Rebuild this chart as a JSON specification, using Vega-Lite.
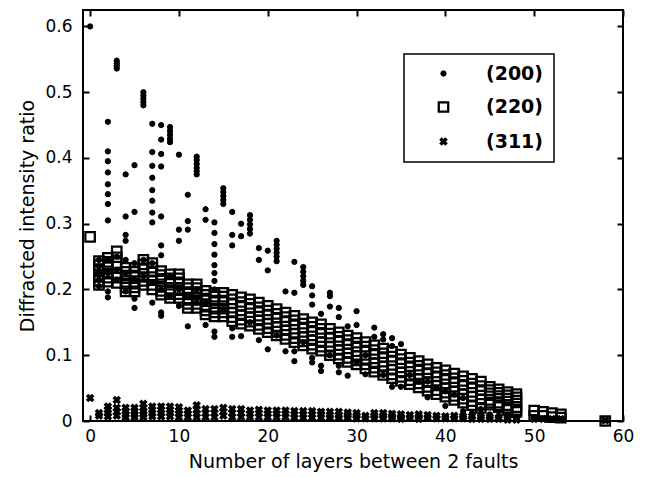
{
"$schema":"https://vega.github.io/schema/vega-lite/v6.json",
"width":540,"height":411,
"autosize":{"type":"none"},
"padding":{"left":83,"top":10,"right":45,"bottom":56},
"background":"white",
"config":{
 "view":{"stroke":"black","strokeWidth":2},
 "font":"DejaVu Sans",
 "axis":{"domain":false,"grid":false,"tickColor":"black","tickWidth":2,"tickSize":-6,"labelColor":"black","labelFont":"DejaVu Sans","labelFontSize":17,"titleFont":"DejaVu Sans","titleFontSize":19,"titleFontWeight":"normal","titleColor":"black","labelFlush":false,"labelOverlap":false,"labelBound":false},
 "legend":{"strokeColor":"black","strokeWidth":1.5,"fillColor":"white","padding":10,"rowPadding":13.5,"symbolOffset":20,"labelOffset":33,"labelFontSize":19,"labelFontWeight":"bold","labelFont":"DejaVu Sans","labelColor":"black"}
},
"data":{"values":[
{"n":0,"v":0.6,"s":"(200)"},
{"n":1,"v":0.245,"s":"(200)"},{"n":1,"v":0.235,"s":"(200)"},{"n":1,"v":0.225,"s":"(200)"},{"n":1,"v":0.215,"s":"(200)"},{"n":1,"v":0.205,"s":"(200)"},
{"n":2,"v":0.455,"s":"(200)"},{"n":2,"v":0.41,"s":"(200)"},{"n":2,"v":0.395,"s":"(200)"},{"n":2,"v":0.378,"s":"(200)"},{"n":2,"v":0.36,"s":"(200)"},{"n":2,"v":0.345,"s":"(200)"},{"n":2,"v":0.33,"s":"(200)"},{"n":2,"v":0.305,"s":"(200)"},{"n":2,"v":0.245,"s":"(200)"},{"n":2,"v":0.225,"s":"(200)"},{"n":2,"v":0.197,"s":"(200)"},{"n":2,"v":0.188,"s":"(200)"},
{"n":3,"v":0.548,"s":"(200)"},{"n":3,"v":0.544,"s":"(200)"},{"n":3,"v":0.54,"s":"(200)"},{"n":3,"v":0.536,"s":"(200)"},{"n":3,"v":0.25,"s":"(200)"},{"n":3,"v":0.23,"s":"(200)"},{"n":3,"v":0.215,"s":"(200)"},
{"n":4,"v":0.375,"s":"(200)"},{"n":4,"v":0.311,"s":"(200)"},{"n":4,"v":0.283,"s":"(200)"},{"n":4,"v":0.274,"s":"(200)"},{"n":4,"v":0.245,"s":"(200)"},{"n":4,"v":0.225,"s":"(200)"},{"n":4,"v":0.197,"s":"(200)"},
{"n":5,"v":0.389,"s":"(200)"},{"n":5,"v":0.318,"s":"(200)"},{"n":5,"v":0.24,"s":"(200)"},{"n":5,"v":0.215,"s":"(200)"},{"n":5,"v":0.186,"s":"(200)"},{"n":5,"v":0.172,"s":"(200)"},
{"n":6,"v":0.5,"s":"(200)"},{"n":6,"v":0.495,"s":"(200)"},{"n":6,"v":0.49,"s":"(200)"},{"n":6,"v":0.485,"s":"(200)"},{"n":6,"v":0.48,"s":"(200)"},{"n":6,"v":0.245,"s":"(200)"},{"n":6,"v":0.22,"s":"(200)"},
{"n":7,"v":0.452,"s":"(200)"},{"n":7,"v":0.409,"s":"(200)"},{"n":7,"v":0.388,"s":"(200)"},{"n":7,"v":0.37,"s":"(200)"},{"n":7,"v":0.351,"s":"(200)"},{"n":7,"v":0.335,"s":"(200)"},{"n":7,"v":0.317,"s":"(200)"},{"n":7,"v":0.302,"s":"(200)"},{"n":7,"v":0.24,"s":"(200)"},{"n":7,"v":0.21,"s":"(200)"},{"n":7,"v":0.18,"s":"(200)"},
{"n":8,"v":0.45,"s":"(200)"},{"n":8,"v":0.428,"s":"(200)"},{"n":8,"v":0.406,"s":"(200)"},{"n":8,"v":0.387,"s":"(200)"},{"n":8,"v":0.311,"s":"(200)"},{"n":8,"v":0.267,"s":"(200)"},{"n":8,"v":0.252,"s":"(200)"},{"n":8,"v":0.2,"s":"(200)"},{"n":8,"v":0.165,"s":"(200)"},{"n":8,"v":0.16,"s":"(200)"},
{"n":9,"v":0.447,"s":"(200)"},{"n":9,"v":0.441,"s":"(200)"},{"n":9,"v":0.435,"s":"(200)"},{"n":9,"v":0.429,"s":"(200)"},{"n":9,"v":0.424,"s":"(200)"},{"n":9,"v":0.22,"s":"(200)"},{"n":9,"v":0.19,"s":"(200)"},
{"n":10,"v":0.405,"s":"(200)"},{"n":10,"v":0.291,"s":"(200)"},{"n":10,"v":0.274,"s":"(200)"},{"n":10,"v":0.2,"s":"(200)"},{"n":10,"v":0.175,"s":"(200)"},
{"n":11,"v":0.344,"s":"(200)"},{"n":11,"v":0.304,"s":"(200)"},{"n":11,"v":0.291,"s":"(200)"},{"n":11,"v":0.19,"s":"(200)"},{"n":11,"v":0.144,"s":"(200)"},
{"n":12,"v":0.402,"s":"(200)"},{"n":12,"v":0.397,"s":"(200)"},{"n":12,"v":0.391,"s":"(200)"},{"n":12,"v":0.385,"s":"(200)"},{"n":12,"v":0.38,"s":"(200)"},{"n":12,"v":0.375,"s":"(200)"},{"n":12,"v":0.2,"s":"(200)"},{"n":12,"v":0.18,"s":"(200)"},
{"n":13,"v":0.322,"s":"(200)"},{"n":13,"v":0.306,"s":"(200)"},{"n":13,"v":0.18,"s":"(200)"},{"n":13,"v":0.146,"s":"(200)"},
{"n":14,"v":0.302,"s":"(200)"},{"n":14,"v":0.286,"s":"(200)"},{"n":14,"v":0.269,"s":"(200)"},{"n":14,"v":0.253,"s":"(200)"},{"n":14,"v":0.237,"s":"(200)"},{"n":14,"v":0.225,"s":"(200)"},{"n":14,"v":0.213,"s":"(200)"},{"n":14,"v":0.2,"s":"(200)"},{"n":14,"v":0.136,"s":"(200)"},{"n":14,"v":0.128,"s":"(200)"},
{"n":15,"v":0.354,"s":"(200)"},{"n":15,"v":0.348,"s":"(200)"},{"n":15,"v":0.342,"s":"(200)"},{"n":15,"v":0.336,"s":"(200)"},{"n":15,"v":0.33,"s":"(200)"},{"n":15,"v":0.17,"s":"(200)"},
{"n":16,"v":0.318,"s":"(200)"},{"n":16,"v":0.283,"s":"(200)"},{"n":16,"v":0.267,"s":"(200)"},{"n":16,"v":0.141,"s":"(200)"},{"n":16,"v":0.128,"s":"(200)"},
{"n":17,"v":0.3,"s":"(200)"},{"n":17,"v":0.281,"s":"(200)"},{"n":17,"v":0.129,"s":"(200)"},
{"n":18,"v":0.313,"s":"(200)"},{"n":18,"v":0.306,"s":"(200)"},{"n":18,"v":0.299,"s":"(200)"},{"n":18,"v":0.292,"s":"(200)"},{"n":18,"v":0.285,"s":"(200)"},{"n":18,"v":0.15,"s":"(200)"},
{"n":19,"v":0.263,"s":"(200)"},{"n":19,"v":0.245,"s":"(200)"},{"n":19,"v":0.123,"s":"(200)"},
{"n":20,"v":0.259,"s":"(200)"},{"n":20,"v":0.229,"s":"(200)"},{"n":20,"v":0.109,"s":"(200)"},
{"n":21,"v":0.274,"s":"(200)"},{"n":21,"v":0.268,"s":"(200)"},{"n":21,"v":0.262,"s":"(200)"},{"n":21,"v":0.256,"s":"(200)"},{"n":21,"v":0.25,"s":"(200)"},{"n":21,"v":0.243,"s":"(200)"},{"n":21,"v":0.13,"s":"(200)"},
{"n":22,"v":0.197,"s":"(200)"},{"n":22,"v":0.106,"s":"(200)"},
{"n":23,"v":0.242,"s":"(200)"},{"n":23,"v":0.195,"s":"(200)"},{"n":23,"v":0.106,"s":"(200)"},{"n":23,"v":0.091,"s":"(200)"},
{"n":24,"v":0.234,"s":"(200)"},{"n":24,"v":0.227,"s":"(200)"},{"n":24,"v":0.22,"s":"(200)"},{"n":24,"v":0.213,"s":"(200)"},{"n":24,"v":0.207,"s":"(200)"},{"n":24,"v":0.12,"s":"(200)"},
{"n":25,"v":0.205,"s":"(200)"},{"n":25,"v":0.191,"s":"(200)"},{"n":25,"v":0.177,"s":"(200)"},{"n":25,"v":0.096,"s":"(200)"},{"n":25,"v":0.089,"s":"(200)"},
{"n":26,"v":0.163,"s":"(200)"},{"n":26,"v":0.084,"s":"(200)"},{"n":26,"v":0.076,"s":"(200)"},
{"n":27,"v":0.195,"s":"(200)"},{"n":27,"v":0.19,"s":"(200)"},{"n":27,"v":0.174,"s":"(200)"},{"n":27,"v":0.1,"s":"(200)"},
{"n":28,"v":0.172,"s":"(200)"},{"n":28,"v":0.158,"s":"(200)"},{"n":28,"v":0.084,"s":"(200)"},{"n":28,"v":0.074,"s":"(200)"},
{"n":29,"v":0.144,"s":"(200)"},{"n":29,"v":0.069,"s":"(200)"},
{"n":30,"v":0.167,"s":"(200)"},{"n":30,"v":0.146,"s":"(200)"},{"n":30,"v":0.09,"s":"(200)"},
{"n":31,"v":0.1,"s":"(200)"},{"n":31,"v":0.071,"s":"(200)"},
{"n":32,"v":0.142,"s":"(200)"},{"n":32,"v":0.128,"s":"(200)"},
{"n":33,"v":0.132,"s":"(200)"},{"n":33,"v":0.124,"s":"(200)"},{"n":33,"v":0.07,"s":"(200)"},
{"n":34,"v":0.126,"s":"(200)"},{"n":34,"v":0.114,"s":"(200)"},{"n":34,"v":0.052,"s":"(200)"},
{"n":35,"v":0.117,"s":"(200)"},{"n":35,"v":0.052,"s":"(200)"},
{"n":36,"v":0.07,"s":"(200)"},{"n":37,"v":0.06,"s":"(200)"},
{"n":38,"v":0.06,"s":"(200)"},{"n":38,"v":0.036,"s":"(200)"},
{"n":39,"v":0.05,"s":"(200)"},
{"n":40,"v":0.045,"s":"(200)"},{"n":40,"v":0.023,"s":"(200)"},
{"n":41,"v":0.04,"s":"(200)"},
{"n":42,"v":0.035,"s":"(200)"},{"n":42,"v":0.015,"s":"(200)"},
{"n":43,"v":0.012,"s":"(200)"},
{"n":44,"v":0.018,"s":"(200)"},{"n":44,"v":0.01,"s":"(200)"},
{"n":45,"v":0.01,"s":"(200)"},{"n":46,"v":0.008,"s":"(200)"},{"n":47,"v":0.01,"s":"(200)"},{"n":48,"v":0.006,"s":"(200)"},
{"n":50,"v":0.004,"s":"(200)"},{"n":51,"v":0.004,"s":"(200)"},{"n":52,"v":0.003,"s":"(200)"},{"n":53,"v":0.003,"s":"(200)"},

{"n":0,"v":0.28,"s":"(220)"},
{"n":1,"v":0.243,"s":"(220)"},{"n":1,"v":0.237,"s":"(220)"},{"n":1,"v":0.231,"s":"(220)"},{"n":1,"v":0.219,"s":"(220)"},{"n":1,"v":0.213,"s":"(220)"},{"n":1,"v":0.207,"s":"(220)"},
{"n":2,"v":0.248,"s":"(220)"},{"n":2,"v":0.242,"s":"(220)"},{"n":2,"v":0.236,"s":"(220)"},{"n":2,"v":0.224,"s":"(220)"},{"n":2,"v":0.218,"s":"(220)"},{"n":2,"v":0.212,"s":"(220)"},
{"n":3,"v":0.258,"s":"(220)"},{"n":3,"v":0.249,"s":"(220)"},{"n":3,"v":0.24,"s":"(220)"},{"n":3,"v":0.225,"s":"(220)"},{"n":3,"v":0.218,"s":"(220)"},{"n":3,"v":0.21,"s":"(220)"},
{"n":4,"v":0.233,"s":"(220)"},{"n":4,"v":0.227,"s":"(220)"},{"n":4,"v":0.221,"s":"(220)"},{"n":4,"v":0.209,"s":"(220)"},{"n":4,"v":0.203,"s":"(220)"},{"n":4,"v":0.197,"s":"(220)"},
{"n":5,"v":0.233,"s":"(220)"},{"n":5,"v":0.227,"s":"(220)"},{"n":5,"v":0.221,"s":"(220)"},{"n":5,"v":0.209,"s":"(220)"},{"n":5,"v":0.203,"s":"(220)"},{"n":5,"v":0.197,"s":"(220)"},
{"n":6,"v":0.245,"s":"(220)"},{"n":6,"v":0.238,"s":"(220)"},{"n":6,"v":0.232,"s":"(220)"},{"n":6,"v":0.219,"s":"(220)"},{"n":6,"v":0.213,"s":"(220)"},{"n":6,"v":0.207,"s":"(220)"},
{"n":7,"v":0.24,"s":"(220)"},{"n":7,"v":0.233,"s":"(220)"},{"n":7,"v":0.227,"s":"(220)"},{"n":7,"v":0.214,"s":"(220)"},{"n":7,"v":0.207,"s":"(220)"},{"n":7,"v":0.2,"s":"(220)"},
{"n":8,"v":0.228,"s":"(220)"},{"n":8,"v":0.222,"s":"(220)"},{"n":8,"v":0.216,"s":"(220)"},{"n":8,"v":0.204,"s":"(220)"},{"n":8,"v":0.198,"s":"(220)"},{"n":8,"v":0.192,"s":"(220)"},
{"n":9,"v":0.223,"s":"(220)"},{"n":9,"v":0.217,"s":"(220)"},{"n":9,"v":0.211,"s":"(220)"},{"n":9,"v":0.199,"s":"(220)"},{"n":9,"v":0.193,"s":"(220)"},{"n":9,"v":0.187,"s":"(220)"},
{"n":10,"v":0.223,"s":"(220)"},{"n":10,"v":0.217,"s":"(220)"},{"n":10,"v":0.211,"s":"(220)"},{"n":10,"v":0.199,"s":"(220)"},{"n":10,"v":0.193,"s":"(220)"},{"n":10,"v":0.187,"s":"(220)"},
{"n":11,"v":0.208,"s":"(220)"},{"n":11,"v":0.202,"s":"(220)"},{"n":11,"v":0.196,"s":"(220)"},{"n":11,"v":0.184,"s":"(220)"},{"n":11,"v":0.178,"s":"(220)"},{"n":11,"v":0.172,"s":"(220)"},
{"n":12,"v":0.208,"s":"(220)"},{"n":12,"v":0.202,"s":"(220)"},{"n":12,"v":0.196,"s":"(220)"},{"n":12,"v":0.184,"s":"(220)"},{"n":12,"v":0.178,"s":"(220)"},{"n":12,"v":0.172,"s":"(220)"},
{"n":13,"v":0.198,"s":"(220)"},{"n":13,"v":0.192,"s":"(220)"},{"n":13,"v":0.186,"s":"(220)"},{"n":13,"v":0.174,"s":"(220)"},{"n":13,"v":0.168,"s":"(220)"},{"n":13,"v":0.162,"s":"(220)"},
{"n":14,"v":0.195,"s":"(220)"},{"n":14,"v":0.189,"s":"(220)"},{"n":14,"v":0.183,"s":"(220)"},{"n":14,"v":0.171,"s":"(220)"},{"n":14,"v":0.165,"s":"(220)"},{"n":14,"v":0.159,"s":"(220)"},
{"n":15,"v":0.195,"s":"(220)"},{"n":15,"v":0.189,"s":"(220)"},{"n":15,"v":0.183,"s":"(220)"},{"n":15,"v":0.171,"s":"(220)"},{"n":15,"v":0.165,"s":"(220)"},{"n":15,"v":0.159,"s":"(220)"},
{"n":16,"v":0.192,"s":"(220)"},{"n":16,"v":0.185,"s":"(220)"},{"n":16,"v":0.179,"s":"(220)"},{"n":16,"v":0.165,"s":"(220)"},{"n":16,"v":0.158,"s":"(220)"},{"n":16,"v":0.152,"s":"(220)"},
{"n":17,"v":0.188,"s":"(220)"},{"n":17,"v":0.181,"s":"(220)"},{"n":17,"v":0.175,"s":"(220)"},{"n":17,"v":0.161,"s":"(220)"},{"n":17,"v":0.154,"s":"(220)"},{"n":17,"v":0.148,"s":"(220)"},
{"n":18,"v":0.185,"s":"(220)"},{"n":18,"v":0.178,"s":"(220)"},{"n":18,"v":0.172,"s":"(220)"},{"n":18,"v":0.158,"s":"(220)"},{"n":18,"v":0.151,"s":"(220)"},{"n":18,"v":0.145,"s":"(220)"},
{"n":19,"v":0.18,"s":"(220)"},{"n":19,"v":0.173,"s":"(220)"},{"n":19,"v":0.167,"s":"(220)"},{"n":19,"v":0.153,"s":"(220)"},{"n":19,"v":0.146,"s":"(220)"},{"n":19,"v":0.14,"s":"(220)"},
{"n":20,"v":0.175,"s":"(220)"},{"n":20,"v":0.168,"s":"(220)"},{"n":20,"v":0.162,"s":"(220)"},{"n":20,"v":0.148,"s":"(220)"},{"n":20,"v":0.141,"s":"(220)"},{"n":20,"v":0.135,"s":"(220)"},
{"n":21,"v":0.17,"s":"(220)"},{"n":21,"v":0.163,"s":"(220)"},{"n":21,"v":0.157,"s":"(220)"},{"n":21,"v":0.143,"s":"(220)"},{"n":21,"v":0.136,"s":"(220)"},{"n":21,"v":0.13,"s":"(220)"},
{"n":22,"v":0.165,"s":"(220)"},{"n":22,"v":0.158,"s":"(220)"},{"n":22,"v":0.152,"s":"(220)"},{"n":22,"v":0.138,"s":"(220)"},{"n":22,"v":0.131,"s":"(220)"},{"n":22,"v":0.125,"s":"(220)"},
{"n":23,"v":0.16,"s":"(220)"},{"n":23,"v":0.153,"s":"(220)"},{"n":23,"v":0.147,"s":"(220)"},{"n":23,"v":0.133,"s":"(220)"},{"n":23,"v":0.126,"s":"(220)"},{"n":23,"v":0.12,"s":"(220)"},
{"n":24,"v":0.155,"s":"(220)"},{"n":24,"v":0.148,"s":"(220)"},{"n":24,"v":0.142,"s":"(220)"},{"n":24,"v":0.128,"s":"(220)"},{"n":24,"v":0.121,"s":"(220)"},{"n":24,"v":0.115,"s":"(220)"},
{"n":25,"v":0.15,"s":"(220)"},{"n":25,"v":0.143,"s":"(220)"},{"n":25,"v":0.137,"s":"(220)"},{"n":25,"v":0.123,"s":"(220)"},{"n":25,"v":0.116,"s":"(220)"},{"n":25,"v":0.11,"s":"(220)"},
{"n":26,"v":0.147,"s":"(220)"},{"n":26,"v":0.14,"s":"(220)"},{"n":26,"v":0.134,"s":"(220)"},{"n":26,"v":0.12,"s":"(220)"},{"n":26,"v":0.113,"s":"(220)"},{"n":26,"v":0.107,"s":"(220)"},
{"n":27,"v":0.14,"s":"(220)"},{"n":27,"v":0.133,"s":"(220)"},{"n":27,"v":0.127,"s":"(220)"},{"n":27,"v":0.113,"s":"(220)"},{"n":27,"v":0.106,"s":"(220)"},{"n":27,"v":0.1,"s":"(220)"},
{"n":28,"v":0.135,"s":"(220)"},{"n":28,"v":0.128,"s":"(220)"},{"n":28,"v":0.122,"s":"(220)"},{"n":28,"v":0.108,"s":"(220)"},{"n":28,"v":0.101,"s":"(220)"},{"n":28,"v":0.095,"s":"(220)"},
{"n":29,"v":0.13,"s":"(220)"},{"n":29,"v":0.123,"s":"(220)"},{"n":29,"v":0.117,"s":"(220)"},{"n":29,"v":0.103,"s":"(220)"},{"n":29,"v":0.096,"s":"(220)"},{"n":29,"v":0.09,"s":"(220)"},
{"n":30,"v":0.126,"s":"(220)"},{"n":30,"v":0.119,"s":"(220)"},{"n":30,"v":0.113,"s":"(220)"},{"n":30,"v":0.099,"s":"(220)"},{"n":30,"v":0.092,"s":"(220)"},{"n":30,"v":0.086,"s":"(220)"},
{"n":31,"v":0.12,"s":"(220)"},{"n":31,"v":0.113,"s":"(220)"},{"n":31,"v":0.107,"s":"(220)"},{"n":31,"v":0.093,"s":"(220)"},{"n":31,"v":0.086,"s":"(220)"},{"n":31,"v":0.08,"s":"(220)"},
{"n":32,"v":0.115,"s":"(220)"},{"n":32,"v":0.108,"s":"(220)"},{"n":32,"v":0.102,"s":"(220)"},{"n":32,"v":0.088,"s":"(220)"},{"n":32,"v":0.081,"s":"(220)"},{"n":32,"v":0.075,"s":"(220)"},
{"n":33,"v":0.11,"s":"(220)"},{"n":33,"v":0.103,"s":"(220)"},{"n":33,"v":0.097,"s":"(220)"},{"n":33,"v":0.083,"s":"(220)"},{"n":33,"v":0.076,"s":"(220)"},{"n":33,"v":0.07,"s":"(220)"},
{"n":34,"v":0.105,"s":"(220)"},{"n":34,"v":0.098,"s":"(220)"},{"n":34,"v":0.092,"s":"(220)"},{"n":34,"v":0.078,"s":"(220)"},{"n":34,"v":0.071,"s":"(220)"},{"n":34,"v":0.065,"s":"(220)"},
{"n":35,"v":0.101,"s":"(220)"},{"n":35,"v":0.094,"s":"(220)"},{"n":35,"v":0.088,"s":"(220)"},{"n":35,"v":0.074,"s":"(220)"},{"n":35,"v":0.067,"s":"(220)"},{"n":35,"v":0.061,"s":"(220)"},
{"n":36,"v":0.096,"s":"(220)"},{"n":36,"v":0.089,"s":"(220)"},{"n":36,"v":0.083,"s":"(220)"},{"n":36,"v":0.069,"s":"(220)"},{"n":36,"v":0.062,"s":"(220)"},{"n":36,"v":0.056,"s":"(220)"},
{"n":37,"v":0.091,"s":"(220)"},{"n":37,"v":0.084,"s":"(220)"},{"n":37,"v":0.078,"s":"(220)"},{"n":37,"v":0.064,"s":"(220)"},{"n":37,"v":0.057,"s":"(220)"},{"n":37,"v":0.051,"s":"(220)"},
{"n":38,"v":0.086,"s":"(220)"},{"n":38,"v":0.079,"s":"(220)"},{"n":38,"v":0.073,"s":"(220)"},{"n":38,"v":0.059,"s":"(220)"},{"n":38,"v":0.052,"s":"(220)"},{"n":38,"v":0.046,"s":"(220)"},
{"n":39,"v":0.081,"s":"(220)"},{"n":39,"v":0.074,"s":"(220)"},{"n":39,"v":0.068,"s":"(220)"},{"n":39,"v":0.054,"s":"(220)"},{"n":39,"v":0.047,"s":"(220)"},{"n":39,"v":0.041,"s":"(220)"},
{"n":40,"v":0.077,"s":"(220)"},{"n":40,"v":0.07,"s":"(220)"},{"n":40,"v":0.064,"s":"(220)"},{"n":40,"v":0.05,"s":"(220)"},{"n":40,"v":0.043,"s":"(220)"},{"n":40,"v":0.037,"s":"(220)"},
{"n":41,"v":0.072,"s":"(220)"},{"n":41,"v":0.065,"s":"(220)"},{"n":41,"v":0.059,"s":"(220)"},{"n":41,"v":0.045,"s":"(220)"},{"n":41,"v":0.038,"s":"(220)"},{"n":41,"v":0.032,"s":"(220)"},
{"n":42,"v":0.068,"s":"(220)"},{"n":42,"v":0.061,"s":"(220)"},{"n":42,"v":0.055,"s":"(220)"},{"n":42,"v":0.041,"s":"(220)"},{"n":42,"v":0.034,"s":"(220)"},{"n":42,"v":0.028,"s":"(220)"},
{"n":43,"v":0.064,"s":"(220)"},{"n":43,"v":0.057,"s":"(220)"},{"n":43,"v":0.051,"s":"(220)"},{"n":43,"v":0.037,"s":"(220)"},{"n":43,"v":0.03,"s":"(220)"},{"n":43,"v":0.024,"s":"(220)"},
{"n":44,"v":0.06,"s":"(220)"},{"n":44,"v":0.053,"s":"(220)"},{"n":44,"v":0.047,"s":"(220)"},{"n":44,"v":0.033,"s":"(220)"},{"n":44,"v":0.026,"s":"(220)"},{"n":44,"v":0.02,"s":"(220)"},
{"n":45,"v":0.052,"s":"(220)"},{"n":45,"v":0.047,"s":"(220)"},{"n":45,"v":0.042,"s":"(220)"},{"n":45,"v":0.032,"s":"(220)"},{"n":45,"v":0.028,"s":"(220)"},{"n":45,"v":0.025,"s":"(220)"},
{"n":46,"v":0.048,"s":"(220)"},{"n":46,"v":0.043,"s":"(220)"},{"n":46,"v":0.038,"s":"(220)"},{"n":46,"v":0.028,"s":"(220)"},{"n":46,"v":0.024,"s":"(220)"},{"n":46,"v":0.021,"s":"(220)"},
{"n":47,"v":0.044,"s":"(220)"},{"n":47,"v":0.039,"s":"(220)"},{"n":47,"v":0.034,"s":"(220)"},{"n":47,"v":0.024,"s":"(220)"},{"n":47,"v":0.02,"s":"(220)"},{"n":47,"v":0.017,"s":"(220)"},
{"n":48,"v":0.041,"s":"(220)"},{"n":48,"v":0.036,"s":"(220)"},{"n":48,"v":0.031,"s":"(220)"},{"n":48,"v":0.021,"s":"(220)"},{"n":48,"v":0.017,"s":"(220)"},{"n":48,"v":0.014,"s":"(220)"},
{"n":50,"v":0.016,"s":"(220)"},{"n":50,"v":0.008,"s":"(220)"},
{"n":51,"v":0.014,"s":"(220)"},{"n":51,"v":0.008,"s":"(220)"},
{"n":52,"v":0.012,"s":"(220)"},{"n":52,"v":0.006,"s":"(220)"},
{"n":53,"v":0.01,"s":"(220)"},{"n":53,"v":0.005,"s":"(220)"},
{"n":58,"v":0.0,"s":"(220)"},

{"n":0,"v":0.035,"s":"(311)"},
{"n":1,"v":0.012,"s":"(311)"},{"n":1,"v":0.008,"s":"(311)"},
{"n":2,"v":0.022,"s":"(311)"},{"n":2,"v":0.017,"s":"(311)"},{"n":2,"v":0.012,"s":"(311)"},{"n":2,"v":0.007,"s":"(311)"},
{"n":3,"v":0.032,"s":"(311)"},{"n":3,"v":0.02,"s":"(311)"},{"n":3,"v":0.014,"s":"(311)"},{"n":3,"v":0.008,"s":"(311)"},
{"n":4,"v":0.02,"s":"(311)"},{"n":4,"v":0.015,"s":"(311)"},{"n":4,"v":0.01,"s":"(311)"},{"n":4,"v":0.006,"s":"(311)"},
{"n":5,"v":0.02,"s":"(311)"},{"n":5,"v":0.015,"s":"(311)"},{"n":5,"v":0.01,"s":"(311)"},{"n":5,"v":0.006,"s":"(311)"},
{"n":6,"v":0.026,"s":"(311)"},{"n":6,"v":0.02,"s":"(311)"},{"n":6,"v":0.015,"s":"(311)"},{"n":6,"v":0.01,"s":"(311)"},{"n":6,"v":0.006,"s":"(311)"},
{"n":7,"v":0.022,"s":"(311)"},{"n":7,"v":0.017,"s":"(311)"},{"n":7,"v":0.012,"s":"(311)"},{"n":7,"v":0.007,"s":"(311)"},
{"n":8,"v":0.022,"s":"(311)"},{"n":8,"v":0.017,"s":"(311)"},{"n":8,"v":0.012,"s":"(311)"},{"n":8,"v":0.007,"s":"(311)"},
{"n":9,"v":0.022,"s":"(311)"},{"n":9,"v":0.017,"s":"(311)"},{"n":9,"v":0.012,"s":"(311)"},{"n":9,"v":0.007,"s":"(311)"},
{"n":10,"v":0.021,"s":"(311)"},{"n":10,"v":0.016,"s":"(311)"},{"n":10,"v":0.011,"s":"(311)"},{"n":10,"v":0.006,"s":"(311)"},
{"n":11,"v":0.016,"s":"(311)"},{"n":11,"v":0.011,"s":"(311)"},{"n":11,"v":0.006,"s":"(311)"},
{"n":12,"v":0.024,"s":"(311)"},{"n":12,"v":0.017,"s":"(311)"},{"n":12,"v":0.011,"s":"(311)"},{"n":12,"v":0.006,"s":"(311)"},
{"n":13,"v":0.018,"s":"(311)"},{"n":13,"v":0.012,"s":"(311)"},{"n":13,"v":0.006,"s":"(311)"},
{"n":14,"v":0.018,"s":"(311)"},{"n":14,"v":0.012,"s":"(311)"},{"n":14,"v":0.006,"s":"(311)"},
{"n":15,"v":0.02,"s":"(311)"},{"n":15,"v":0.014,"s":"(311)"},{"n":15,"v":0.008,"s":"(311)"},
{"n":16,"v":0.018,"s":"(311)"},{"n":16,"v":0.012,"s":"(311)"},{"n":16,"v":0.006,"s":"(311)"},
{"n":17,"v":0.018,"s":"(311)"},{"n":17,"v":0.012,"s":"(311)"},{"n":17,"v":0.006,"s":"(311)"},
{"n":18,"v":0.016,"s":"(311)"},{"n":18,"v":0.011,"s":"(311)"},{"n":18,"v":0.006,"s":"(311)"},
{"n":19,"v":0.017,"s":"(311)"},{"n":19,"v":0.012,"s":"(311)"},{"n":19,"v":0.006,"s":"(311)"},
{"n":20,"v":0.016,"s":"(311)"},{"n":20,"v":0.011,"s":"(311)"},{"n":20,"v":0.006,"s":"(311)"},
{"n":21,"v":0.016,"s":"(311)"},{"n":21,"v":0.011,"s":"(311)"},{"n":21,"v":0.006,"s":"(311)"},
{"n":22,"v":0.016,"s":"(311)"},{"n":22,"v":0.011,"s":"(311)"},{"n":22,"v":0.006,"s":"(311)"},
{"n":23,"v":0.015,"s":"(311)"},{"n":23,"v":0.01,"s":"(311)"},{"n":23,"v":0.005,"s":"(311)"},
{"n":24,"v":0.015,"s":"(311)"},{"n":24,"v":0.01,"s":"(311)"},{"n":24,"v":0.005,"s":"(311)"},
{"n":25,"v":0.015,"s":"(311)"},{"n":25,"v":0.01,"s":"(311)"},{"n":25,"v":0.005,"s":"(311)"},
{"n":26,"v":0.014,"s":"(311)"},{"n":26,"v":0.01,"s":"(311)"},{"n":26,"v":0.005,"s":"(311)"},
{"n":27,"v":0.014,"s":"(311)"},{"n":27,"v":0.009,"s":"(311)"},{"n":27,"v":0.005,"s":"(311)"},
{"n":28,"v":0.014,"s":"(311)"},{"n":28,"v":0.009,"s":"(311)"},{"n":28,"v":0.005,"s":"(311)"},
{"n":29,"v":0.013,"s":"(311)"},{"n":29,"v":0.009,"s":"(311)"},{"n":29,"v":0.005,"s":"(311)"},
{"n":30,"v":0.012,"s":"(311)"},{"n":30,"v":0.008,"s":"(311)"},{"n":30,"v":0.004,"s":"(311)"},
{"n":31,"v":0.008,"s":"(311)"},{"n":31,"v":0.004,"s":"(311)"},
{"n":32,"v":0.012,"s":"(311)"},{"n":32,"v":0.008,"s":"(311)"},{"n":32,"v":0.004,"s":"(311)"},
{"n":33,"v":0.012,"s":"(311)"},{"n":33,"v":0.008,"s":"(311)"},{"n":33,"v":0.004,"s":"(311)"},
{"n":34,"v":0.011,"s":"(311)"},{"n":34,"v":0.007,"s":"(311)"},{"n":34,"v":0.004,"s":"(311)"},
{"n":35,"v":0.01,"s":"(311)"},{"n":35,"v":0.006,"s":"(311)"},{"n":35,"v":0.003,"s":"(311)"},
{"n":36,"v":0.009,"s":"(311)"},{"n":36,"v":0.005,"s":"(311)"},
{"n":37,"v":0.01,"s":"(311)"},{"n":37,"v":0.006,"s":"(311)"},{"n":37,"v":0.003,"s":"(311)"},
{"n":38,"v":0.009,"s":"(311)"},{"n":38,"v":0.005,"s":"(311)"},
{"n":39,"v":0.008,"s":"(311)"},{"n":39,"v":0.004,"s":"(311)"},
{"n":40,"v":0.007,"s":"(311)"},{"n":40,"v":0.004,"s":"(311)"},
{"n":41,"v":0.008,"s":"(311)"},{"n":41,"v":0.004,"s":"(311)"},
{"n":42,"v":0.007,"s":"(311)"},{"n":42,"v":0.004,"s":"(311)"},
{"n":43,"v":0.007,"s":"(311)"},{"n":43,"v":0.003,"s":"(311)"},
{"n":44,"v":0.006,"s":"(311)"},{"n":44,"v":0.003,"s":"(311)"},
{"n":45,"v":0.006,"s":"(311)"},{"n":45,"v":0.003,"s":"(311)"},
{"n":46,"v":0.005,"s":"(311)"},{"n":46,"v":0.003,"s":"(311)"},
{"n":47,"v":0.005,"s":"(311)"},{"n":47,"v":0.002,"s":"(311)"},
{"n":48,"v":0.004,"s":"(311)"},{"n":48,"v":0.002,"s":"(311)"},
{"n":50,"v":0.003,"s":"(311)"},{"n":51,"v":0.003,"s":"(311)"},{"n":52,"v":0.003,"s":"(311)"},{"n":53,"v":0.003,"s":"(311)"},
{"n":58,"v":0.001,"s":"(311)"}
]},
"layer":[
 {"mark":{"type":"point","opacity":1},
  "encoding":{
   "x":{"field":"n","type":"quantitative","scale":{"domain":[-0.8,60],"nice":false,"zero":false},
        "axis":{"orient":"bottom","values":[0,10,20,30,40,50,60],"title":"Number of layers between 2 faults","labelPadding":13.5,"titlePadding":8}},
   "y":{"field":"v","type":"quantitative","scale":{"domain":[0,0.625],"nice":false,"zero":false},
        "axis":{"orient":"left","values":[0,0.1,0.2,0.3,0.4,0.5,0.6],"format":"~g","title":"Diffracted intensity ratio","labelPadding":17,"titlePadding":7}},
   "shape":{"field":"s","type":"nominal","scale":{"domain":["(200)","(220)","(311)"],"range":["circle","square","M-0.5,-0.5L0.5,0.5M-0.5,0.5L0.5,-0.5"]},
        "legend":{"title":null,"orient":"none","legendX":321,"legendY":44}},
   "size":{"field":"s","type":"nominal","scale":{"domain":["(200)","(220)","(311)"],"range":[28,150,40]},
        "legend":{"title":null,"orient":"none","legendX":321,"legendY":44}},
   "fill":{"field":"s","type":"nominal","scale":{"domain":["(200)","(220)","(311)"],"range":["black","transparent","transparent"]},
        "legend":{"title":null,"orient":"none","legendX":321,"legendY":44}},
   "stroke":{"field":"s","type":"nominal","scale":{"domain":["(200)","(220)","(311)"],"range":["black","black","black"]},
        "legend":{"title":null,"orient":"none","legendX":321,"legendY":44}},
   "strokeWidth":{"field":"s","type":"nominal","scale":{"domain":["(200)","(220)","(311)"],"range":[1,3.5,1.8]},
        "legend":{"title":null,"orient":"none","legendX":321,"legendY":44}}
  }},
 {"mark":{"type":"point","opacity":0},
  "encoding":{
   "x":{"field":"n","type":"quantitative","axis":{"orient":"top","labels":false,"title":null,"values":[0,10,20,30,40,50,60]}},
   "y":{"field":"v","type":"quantitative","axis":{"orient":"right","labels":false,"title":null,"values":[0,0.1,0.2,0.3,0.4,0.5,0.6]}}
  }}
],
"resolve":{"axis":{"x":"independent","y":"independent"}}
}
